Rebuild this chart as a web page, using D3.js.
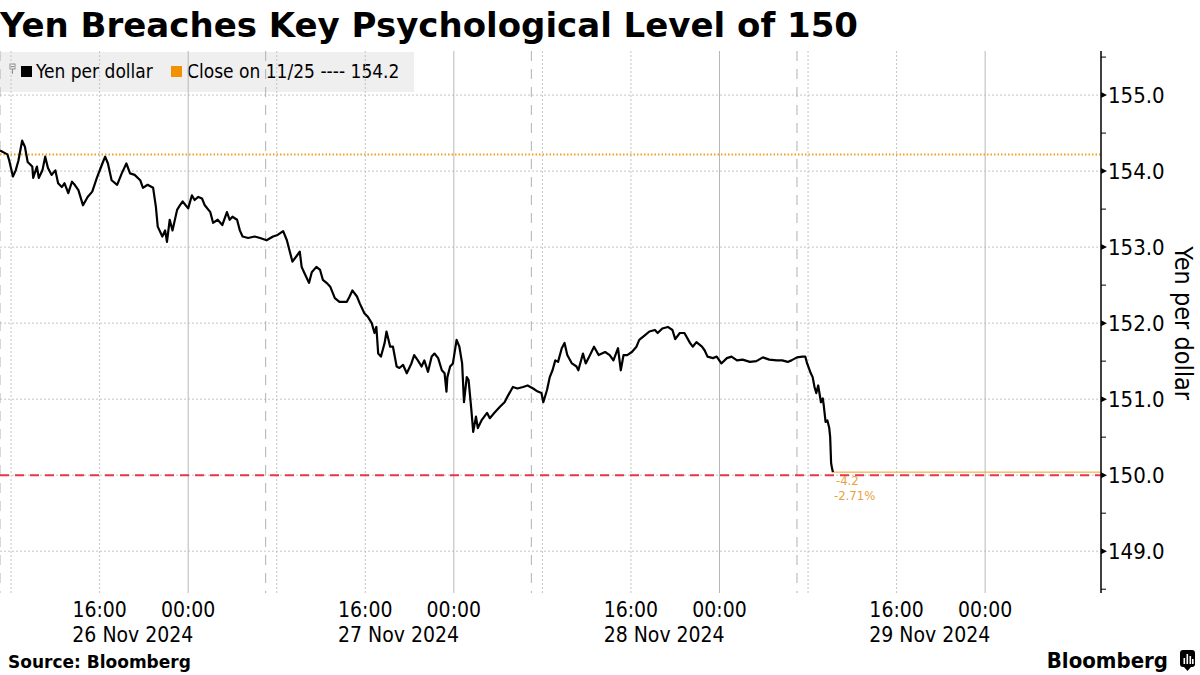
<!DOCTYPE html>
<html><head><meta charset="utf-8">
<script src="https://cdn.jsdelivr.net/npm/d3@7"></script>
<style>
body{margin:0;background:#fff;}
svg{display:block;}
text{font-family:"DejaVu Sans Condensed","DejaVu Sans",sans-serif;fill:#000;}
</style></head><body>
<svg id="c" width="1200" height="675"></svg>
<script>
const titleText = "Yen Breaches Key Psychological Level of 150";
const seriesName = "Yen per dollar";
const closeLabel = "Close on 11/25 ---- 154.2";
const closeValue = 154.22;
const thresholdValue = 150;
const sourceText = "Source: Bloomberg";
const yTicks = [149, 150, 151, 152, 153, 154, 155];
const yMinorTicks = [148.5, 149.5, 150.5, 151.5, 152.5, 153.5, 154.5, 155.5];
const dayLabels = ["26 Nov 2024", "27 Nov 2024", "28 Nov 2024", "29 Nov 2024"];
const tradingDayStarts = ["26 07:00", "27 07:00", "28 07:00", "29 07:00"];
const gridEnd = "30 07:00";
const xDomain = ["26 07:00", "30 10:28"];

const times = [
"26 07:00","26 07:40","26 07:50","26 08:10","26 08:25","26 08:40","26 09:00","26 09:15","26 09:30","26 09:55",
"26 10:00","26 10:20","26 10:30","26 10:50","26 11:05","26 11:20","26 11:40","26 12:00","26 12:15","26 12:35",
"26 12:50","26 13:10","26 13:30","26 13:45","26 14:05","26 14:30","26 14:55","26 15:20","26 15:45","26 16:15",
"26 16:30","26 16:45","26 17:05","26 17:35","26 18:00","26 18:25","26 18:45","26 19:10","26 19:40","26 19:55",
"26 20:20","26 20:50","26 21:05","26 21:15","26 21:40","26 21:55","26 22:05","26 22:20","26 22:35","26 23:00",
"26 23:15","26 23:30","27 00:00","27 00:20","27 00:35","27 00:55","27 01:15","27 01:30","27 02:00","27 02:15",
"27 02:40","27 03:05","27 03:30","27 03:45","27 04:00","27 04:25","27 04:40","27 04:55","27 05:25","27 06:00",
"27 06:30","27 07:05","27 07:40","27 08:05","27 08:35","27 08:55","27 09:10","27 09:25","27 09:50","27 10:05",
"27 10:15","27 10:30","27 10:55","27 11:10","27 11:35","27 11:55","27 12:10","27 12:30","27 12:50","27 13:15",
"27 13:40","27 14:20","27 14:35","27 14:50","27 15:15","27 15:30","27 15:55","27 16:15","27 16:35","27 16:50",
"27 17:00","27 17:10","27 17:25","27 17:45","27 17:55","27 18:15","27 18:30","27 18:50","27 19:05","27 19:25",
"27 19:45","27 20:10","27 20:25","27 20:45","27 21:05","27 21:20","27 21:40","27 22:00","27 22:15","27 22:35",
"27 22:55","27 23:10","27 23:20","27 23:25","27 23:40","27 23:55","28 00:15","28 00:30","28 00:45","28 00:55",
"28 01:10","28 01:20","28 01:35","28 01:45","28 02:00","28 02:10","28 02:30","28 03:00","28 03:15","28 03:40",
"28 04:10","28 04:35","28 04:50","28 05:20","28 05:45","28 06:15","28 06:40","28 07:10","28 07:35","28 07:55",
"28 08:05","28 08:25","28 08:40","28 08:55","28 09:10","28 09:25","28 09:45","28 10:00","28 10:15","28 10:40",
"28 11:05","28 11:15","28 11:40","28 11:55","28 12:10","28 12:40","28 13:05","28 13:40","28 14:05","28 14:25",
"28 14:50","28 15:05","28 15:20","28 15:40","28 16:05","28 16:30","28 16:45","28 17:15","28 17:40","28 18:10",
"28 18:25","28 18:50","28 19:20","28 19:45","28 20:00","28 20:25","28 20:50","28 21:20","28 21:35","28 21:55",
"28 22:25","28 22:40","28 22:55","28 23:25","28 23:45","29 00:10","29 00:40","29 01:05","29 01:35","29 02:05",
"29 02:45","29 03:20","29 03:55","29 04:30","29 05:10","29 05:40","29 06:10","29 06:30","29 07:00","29 07:30",
"29 07:45","29 07:55","29 08:15","29 08:25","29 08:35","29 08:45","29 08:55","29 09:10","29 09:20","29 09:25",
"29 09:35","29 09:45","29 09:55","29 10:00","29 10:05","29 10:10","29 10:15"
];
const yen = [
154.27,154.22,154.14,153.93,154.01,154.14,154.40,154.32,154.12,154.06,
153.91,154.06,153.91,154.01,154.19,154.04,153.95,154.01,153.84,153.79,
153.84,153.71,153.86,153.82,153.75,153.55,153.66,153.73,153.91,154.10,
154.19,154.10,153.88,153.82,153.97,154.10,153.97,153.95,153.88,153.78,
153.82,153.78,153.53,153.27,153.14,153.22,153.07,153.36,153.22,153.49,
153.55,153.60,153.51,153.68,153.62,153.66,153.64,153.55,153.46,153.32,
153.36,153.29,153.46,153.36,153.40,153.36,153.22,153.14,153.12,153.14,
153.12,153.09,153.14,153.16,153.21,153.09,152.95,152.81,152.89,152.94,
152.74,152.66,152.53,152.67,152.74,152.70,152.57,152.53,152.48,152.33,
152.28,152.28,152.35,152.43,152.35,152.26,152.13,152.08,152.00,151.87,
151.95,151.60,151.56,151.74,151.89,151.69,151.69,151.43,151.41,151.45,
151.34,151.47,151.58,151.51,151.43,151.51,151.36,151.56,151.60,151.54,
151.38,151.34,151.10,151.29,151.43,151.47,151.78,151.69,151.47,150.96,
151.29,151.25,150.86,150.57,150.77,150.62,150.72,150.82,150.75,150.82,
150.90,150.96,151.03,151.16,151.14,151.16,151.18,151.14,151.10,151.08,
150.96,151.12,151.29,151.38,151.51,151.49,151.67,151.74,151.58,151.47,
151.43,151.38,151.60,151.47,151.54,151.69,151.58,151.62,151.58,151.51,
151.67,151.38,151.58,151.58,151.62,151.69,151.78,151.84,151.89,151.91,
151.87,151.93,151.95,151.91,151.79,151.87,151.87,151.74,151.69,151.75,
151.69,151.64,151.56,151.54,151.56,151.47,151.54,151.56,151.51,151.52,
151.49,151.50,151.55,151.52,151.51,151.51,151.49,151.51,151.55,151.56,
151.56,151.47,151.34,151.29,151.16,151.08,151.18,150.96,151.01,150.92,
150.70,150.72,150.62,150.50,150.16,150.09,150.04
];

const parse = s => d3.timeParse("%Y-%m-%d %H:%M")("2024-11-" + s);
const data = times.map((t, i) => ({t: parse(t), v: yen[i]}));

const plot = {left: 0, right: 1101, top: 51, bottom: 593};
const svg = d3.select("#c");

const x = d3.scaleTime().domain(xDomain.map(parse)).range([plot.left, plot.right]);
const y = d3.scaleLinear().domain([148.45, 155.58]).range([plot.bottom, plot.top]);

// Title
svg.append("text").attr("x", 0).attr("y", 37)
  .style("font-family", "'DejaVu Sans', sans-serif")
  .style("font-weight", "bold").style("font-size", "34px")
  .text(titleText);

// Legend background
const lg = svg.append("g");
lg.append("rect").attr("x", 0).attr("y", 52).attr("width", 414).attr("height", 40).attr("fill", "#efefef");

// Horizontal gridlines
svg.append("g").selectAll("line").data(yTicks).join("line")
  .attr("x1", plot.left).attr("x2", plot.right)
  .attr("y1", d => y(d)).attr("y2", d => y(d))
  .attr("stroke", "#c4c4c4").attr("stroke-width", 1).attr("stroke-dasharray", "2,2");

// Vertical gridlines
const hours = d3.timeHour.range(x.domain()[0], parse(gridEnd));
const vg = svg.append("g");
hours.forEach(h => {
  const hr = h.getHours();
  let style = null;
  if (hr === 0) style = {c: "#b8b8b8", d: null};
  else if (hr === 8 || hr === 16) style = {c: "#c4c4c4", d: "2,2"};
  else if (hr === 7) style = {c: "#b0b0b0", d: "10,8"};
  if (!style) return;
  const ln = vg.append("line")
    .attr("x1", x(h)).attr("x2", x(h))
    .attr("y1", plot.top).attr("y2", plot.bottom)
    .attr("stroke", style.c).attr("stroke-width", 1);
  if (style.d) ln.attr("stroke-dasharray", style.d);
});

// Close-on line (dotted orange)
svg.append("line").attr("x1", plot.left).attr("x2", plot.right)
  .attr("y1", y(closeValue)).attr("y2", y(closeValue))
  .attr("stroke", "#f0a020").attr("stroke-width", 2).attr("stroke-dasharray", "1.5,2");

// Last value line (solid orange)
const last = data[data.length - 1];
svg.append("line").attr("x1", x(last.t)).attr("x2", plot.right)
  .attr("y1", y(last.v)).attr("y2", y(last.v))
  .attr("stroke", "#f0a020").attr("stroke-width", 1);

// Threshold line (red dashed)
svg.append("line").attr("x1", plot.left).attr("x2", plot.right)
  .attr("y1", y(thresholdValue)).attr("y2", y(thresholdValue))
  .attr("stroke", "#e8364e").attr("stroke-width", 2).attr("stroke-dasharray", "9,6");

// Data line
svg.append("path").datum(data)
  .attr("d", d3.line().x(d => x(d.t)).y(d => y(d.v)))
  .attr("fill", "none").attr("stroke", "#000").attr("stroke-width", 2.2)
  .attr("stroke-linejoin", "round");

// Change annotation
const chg = last.v - closeValue;
const pct = chg / closeValue * 100;
svg.append("text").attr("x", x(last.t) + 3).attr("y", y(last.v) + 13)
  .style("font-size", "13px").style("fill", "#e8a33d").text(chg.toFixed(1));
svg.append("text").attr("x", x(last.t) + 1).attr("y", y(last.v) + 28)
  .style("font-size", "13px").style("fill", "#e8a33d").text(pct.toFixed(2) + "%");

// Y axis (right)
const ax = svg.append("g");
ax.append("line").attr("x1", plot.right).attr("x2", plot.right)
  .attr("y1", plot.top).attr("y2", plot.bottom).attr("stroke", "#000").attr("stroke-width", 1.5);
ax.selectAll("path.maj").data(yTicks).join("path").attr("class", "maj")
  .attr("d", d => `M${plot.right},${y(d) - 3}L${plot.right + 6},${y(d)}L${plot.right},${y(d) + 3}Z`)
  .attr("fill", "#000");
ax.selectAll("line.min").data(yMinorTicks).join("line").attr("class", "min")
  .attr("x1", plot.right).attr("x2", plot.right + 5)
  .attr("y1", d => y(d)).attr("y2", d => y(d)).attr("stroke", "#000").attr("stroke-width", 1);
ax.selectAll("text").data(yTicks).join("text")
  .attr("x", plot.right + 7).attr("y", d => y(d) + 8)
  .style("font-size", "22px").text(d => d.toFixed(1));
svg.append("text")
  .attr("transform", `translate(1175,${y(152)}) rotate(90)`)
  .attr("text-anchor", "middle").style("font-size", "25px").text(seriesName);

// X axis labels
const fmt = d3.timeFormat("%H:%M");
const labelHours = hours.filter(h => h.getHours() === 16 || h.getHours() === 0);
svg.append("g").selectAll("text").data(labelHours).join("text")
  .attr("x", d => x(d)).attr("y", 617).attr("text-anchor", "middle")
  .style("font-size", "21px").text(d => fmt(d));
svg.append("g").selectAll("text").data(dayLabels).join("text")
  .attr("x", (d, i) => x(d3.timeHour.offset(parse(tradingDayStarts[i]), 12)))
  .attr("y", 642).attr("text-anchor", "middle")
  .style("font-size", "21px").text(d => d);

// Legend content
lg.append("rect").attr("x", 10).attr("y", 64).attr("width", 5).attr("height", 5)
  .attr("fill", "none").attr("stroke", "#777").attr("stroke-width", 0.8);
lg.append("line").attr("x1", 11).attr("x2", 14).attr("y1", 66.5).attr("y2", 66.5).attr("stroke", "#777").attr("stroke-width", 0.8);
lg.append("line").attr("x1", 12.5).attr("x2", 12.5).attr("y1", 69).attr("y2", 74).attr("stroke", "#777").attr("stroke-width", 0.8);
lg.append("rect").attr("x", 21).attr("y", 66).attr("width", 11).attr("height", 11).attr("fill", "#000");
lg.append("text").attr("x", 36).attr("y", 78).style("font-size", "19px").text(seriesName);
lg.append("rect").attr("x", 171).attr("y", 66).attr("width", 11).attr("height", 11).attr("fill", "#f39200");
lg.append("text").attr("x", 187).attr("y", 78).style("font-size", "19px").text(closeLabel);

// Footer
svg.append("text").attr("x", 8).attr("y", 668)
  .style("font-family", "'DejaVu Sans', sans-serif").style("font-weight", "bold").style("font-size", "17px")
  .text(sourceText);
svg.append("text").attr("x", 1168).attr("y", 668).attr("text-anchor", "end")
  .style("font-weight", "bold").style("font-size", "22px").text("Bloomberg");
const logo = svg.append("g");
logo.append("rect").attr("x", 1180).attr("y", 650).attr("width", 15).attr("height", 17).attr("rx", 3).attr("fill", "#000");
logo.append("path").attr("d", "M1184,667L1187.5,671L1191,667Z").attr("fill", "#000");
[[1183.5, 658, 6], [1186.5, 654, 10], [1189.5, 656, 8], [1192, 659, 5]].forEach(b => {
  logo.append("rect").attr("x", b[0]).attr("y", b[1]).attr("width", 1.6).attr("height", b[2]).attr("fill", "#fff");
});
</script>
</body></html>
